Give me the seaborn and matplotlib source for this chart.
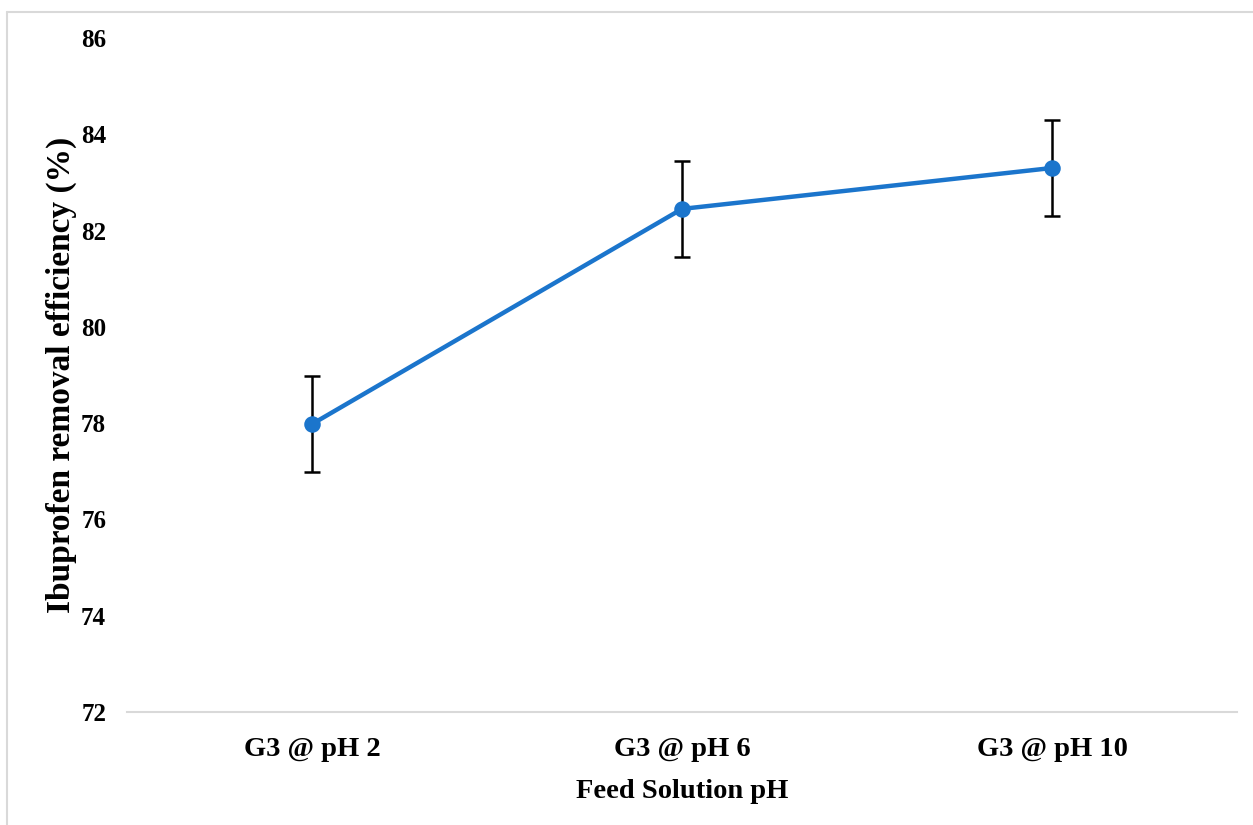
import matplotlib
matplotlib.use("Agg")
import matplotlib.pyplot as plt
from matplotlib.lines import Line2D
import seaborn as sns
import pandas as pd

categories = ["G3 @ pH 2", "G3 @ pH 6", "G3 @ pH 10"]
efficiency = [77.98, 82.45, 83.30]
errors = [1.0, 1.0, 1.0]
yticks = [72, 74, 76, 78, 80, 82, 84, 86]

sns.set_theme(style="white")
plt.rcParams["font.family"] = ["Liberation Serif", "DejaVu Serif"]
plt.rcParams["font.weight"] = "bold"
plt.rcParams["text.color"] = "black"
plt.rcParams["axes.labelcolor"] = "black"
plt.rcParams["xtick.color"] = "black"
plt.rcParams["ytick.color"] = "black"

df = pd.DataFrame({"cat": categories, "eff": efficiency})

fig = plt.figure(figsize=(12.53, 8.25), dpi=100)
ax = fig.add_axes([127/1253, 1-712/825, (1237-127)/1253, (712-38)/825])

line_color = "#1B75CC"
ax.errorbar(range(len(categories)), efficiency, yerr=errors, fmt="none",
            ecolor="black", elinewidth=1.8, capsize=6, capthick=1.8, zorder=2)
sns.pointplot(data=df, x="cat", y="eff", ax=ax, color=line_color,
              errorbar=None, markers="o", linewidth=3.2, markersize=9.5,
              zorder=3)

ax.set_xlim(-0.5, 2.5)
ax.set_ylim(72, 86)
ax.set_yticks(yticks)
ax.set_yticklabels([str(t) for t in yticks], fontsize=18, fontweight="bold", color="black")
ax.set_xticks(range(len(categories)))
ax.set_xticklabels(categories, fontsize=20.5, fontweight="bold", color="black")
ax.tick_params(axis="y", length=0, pad=15)
ax.tick_params(axis="x", length=0, pad=18)

for s in ["left", "right", "top"]:
    ax.spines[s].set_visible(False)
ax.spines["bottom"].set_color("#d9d9d9")
ax.spines["bottom"].set_linewidth(1.5)
ax.grid(False)

ax.set_xlabel("Feed Solution pH", fontsize=20.5, fontweight="bold", labelpad=12, color="black")
ax.set_ylabel("Ibuprofen removal efficiency (%)", fontsize=24, fontweight="bold", labelpad=3, color="black")

# figure frame (left and top edges visible)
fig.add_artist(Line2D([7/1253, 7/1253], [0, 1-12/825], color="#d9d9d9", lw=1.5, transform=fig.transFigure))
fig.add_artist(Line2D([7/1253, 1], [1-12/825, 1-12/825], color="#d9d9d9", lw=1.5, transform=fig.transFigure))

fig.savefig("out.png", dpi=100, facecolor="white")
